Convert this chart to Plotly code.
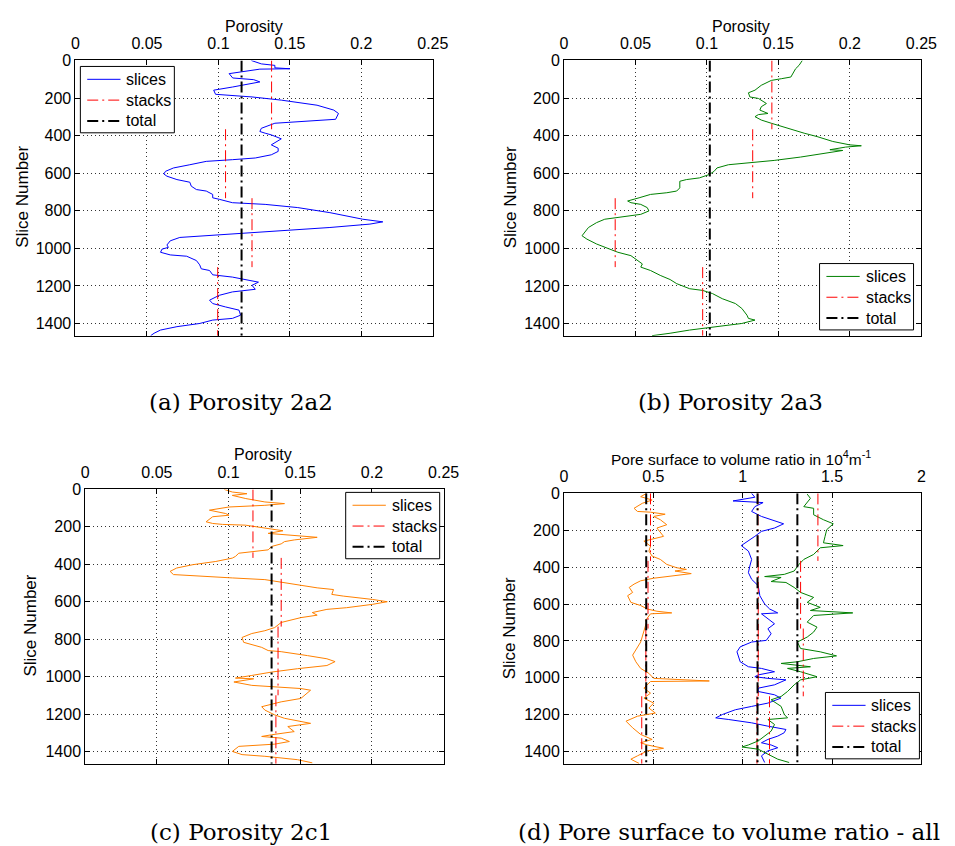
import plotly.graph_objects as go

# ---------------- data ----------------
stack_bounds = [0, 366, 733, 1100, 1466]

# (a) Porosity 2a2
a_y = [0, 18, 26, 39, 44, 46, 70, 93, 102, 114, 141, 158, 180, 185, 194, 211, 238, 264, 282, 313, 326,
       334, 361, 378, 387, 396, 417, 440, 449, 467, 484, 502, 519, 528, 537, 555, 572, 590, 604, 616,
       634, 648, 669, 687, 695, 713, 731, 739, 757, 766, 783, 810, 845, 859, 871, 889, 907, 924, 933,
       942, 960, 982, 995, 1004, 1021, 1035, 1042, 1065, 1088, 1109, 1118, 1141, 1153, 1180, 1197,
       1218, 1232, 1250, 1276, 1294, 1312, 1329, 1356, 1373, 1382, 1400, 1417, 1435, 1452, 1465]
a_x = [0.123, 0.130, 0.1395, 0.1395, 0.150, 0.129, 0.1075, 0.110, 0.1247, 0.129, 0.110, 0.0967, 0.098,
       0.110, 0.1235, 0.144, 0.169, 0.1807, 0.184, 0.182, 0.1555, 0.1395, 0.130, 0.129, 0.1327, 0.137,
       0.144, 0.1395, 0.137, 0.1418, 0.1418, 0.137, 0.1258, 0.1098, 0.0915, 0.080, 0.0686, 0.063,
       0.0618, 0.064, 0.071, 0.080, 0.081, 0.0846, 0.0915, 0.096, 0.096, 0.1006, 0.1098, 0.1327,
       0.1555, 0.178, 0.201, 0.215, 0.206, 0.178, 0.144, 0.1144, 0.0915, 0.073, 0.0663, 0.064, 0.065,
       0.0606, 0.0595, 0.0663, 0.0778, 0.0846, 0.0869, 0.088, 0.0938, 0.096, 0.1098, 0.128, 0.1235,
       0.1258, 0.1098, 0.1006, 0.0938, 0.096, 0.105, 0.1144, 0.1155, 0.1098, 0.096, 0.0869, 0.071,
       0.0595, 0.055, 0.0526]
a_stacks = [0.1372, 0.105, 0.1235, 0.0995]
a_total = 0.1162

# (b) Porosity 2a3
b_y = [0, 26, 44, 70, 88, 97, 106, 132, 158, 172, 194, 202, 229, 246, 264, 282, 288, 299, 317, 334, 361,
       387, 405, 431, 449, 454, 461, 475, 479, 493, 514, 532, 542, 555, 572, 590, 607, 625, 634, 643,
       678, 695, 704, 713, 731, 748, 757, 766, 783, 801, 819, 831, 845, 863, 889, 933, 951, 977, 995,
       1021, 1039, 1065, 1083, 1100, 1118, 1144, 1166, 1188, 1215, 1224, 1241, 1268, 1294, 1320, 1356,
       1373, 1382, 1400, 1417, 1435, 1452, 1465]
b_x = [0.1667, 0.1644, 0.162, 0.160, 0.1587, 0.152, 0.145, 0.138, 0.1336, 0.129, 0.130, 0.136, 0.1416,
       0.138, 0.137, 0.1427, 0.136, 0.1336, 0.138, 0.145, 0.156, 0.168, 0.177, 0.188, 0.1998, 0.208,
       0.197, 0.186, 0.195, 0.184, 0.1655, 0.147, 0.131, 0.115, 0.107, 0.105, 0.1016, 0.0947, 0.0856,
       0.081, 0.081, 0.0788, 0.0719, 0.0605, 0.0525, 0.0445, 0.0468, 0.0537, 0.0582, 0.0594, 0.0537,
       0.0422, 0.0285, 0.0228, 0.0171, 0.0126, 0.016, 0.0228, 0.0285, 0.0377, 0.0468, 0.0514, 0.0548,
       0.0537, 0.0605, 0.0673, 0.0742, 0.0788, 0.0879, 0.097, 0.1039, 0.1107, 0.1199, 0.1244, 0.128,
       0.129, 0.1336, 0.1244, 0.106, 0.0879, 0.0742, 0.0616]
b_stacks = [0.1454, 0.132, 0.0358, 0.097]
b_total = 0.102

# (c) Porosity 2c1
c_y = [0, 14, 23, 32, 49, 67, 76, 85, 94, 111, 129, 138, 146, 173, 182, 187, 191, 208, 221, 235, 244, 256,
       270, 279, 291, 305, 323, 332, 341, 358, 367, 385, 402, 420, 438, 455, 464, 473, 482, 508, 526,
       535, 561, 570, 579, 588, 600, 614, 632, 641, 658, 672, 685, 697, 711, 738, 755, 770, 791, 817,
       844, 861, 867, 888, 905, 920, 941, 958, 976, 994, 1008, 1012, 1029, 1047, 1055, 1064, 1073, 1117,
       1135, 1161, 1179, 1205, 1223, 1250, 1267, 1294, 1311, 1320, 1329, 1347, 1361, 1373, 1400, 1417,
       1426, 1444, 1461]
c_x = [0.0969, 0.1026, 0.1128, 0.1026, 0.112, 0.1253, 0.139, 0.1253, 0.1003, 0.0866, 0.098, 0.1003,
       0.0889, 0.0843, 0.0889, 0.0957, 0.1117, 0.1253, 0.1379, 0.1276, 0.1436, 0.1618, 0.1458, 0.139,
       0.1367, 0.13, 0.1276, 0.1162, 0.1071, 0.1048, 0.1026, 0.0911, 0.0752, 0.0638, 0.0592, 0.0615,
       0.0797, 0.1026, 0.1253, 0.148, 0.1618, 0.1732, 0.172, 0.18, 0.1914, 0.2005, 0.2107, 0.2005,
       0.1823, 0.1686, 0.1584, 0.1618, 0.1504, 0.1436, 0.1367, 0.1322, 0.1253, 0.1162, 0.1094, 0.1105,
       0.1231, 0.1276, 0.1367, 0.155, 0.1686, 0.1743, 0.1686, 0.148, 0.13, 0.1162, 0.1048, 0.1175,
       0.1037, 0.1162, 0.1322, 0.1504, 0.1572, 0.1504, 0.1367, 0.1231, 0.1253, 0.1322, 0.139, 0.1572,
       0.1413, 0.1458, 0.13, 0.1231, 0.1367, 0.1424, 0.1322, 0.1071, 0.1026, 0.1094, 0.1253, 0.148,
       0.1584]
c_stacks = [0.117, 0.1367, 0.1345, 0.133]
c_total = 0.130

# (d) Pore surface to volume ratio - all three samples
d1_y = [0, 18, 36, 54, 81, 98, 102, 113, 125, 143, 170, 188, 233, 251, 259, 286, 313, 340, 358, 385, 403,
        412, 421, 435, 448, 460, 474, 492, 510, 537, 555, 591, 608, 627, 639, 648, 653, 689, 698, 770,
        806, 877, 913, 949, 976, 1003, 1017, 1020, 1056, 1083, 1110, 1137, 1164, 1191, 1208, 1235,
        1271, 1307, 1334, 1352, 1364, 1382, 1396, 1423, 1441, 1464]
d1_x = [0.462, 0.429, 0.493, 0.438, 0.392, 0.411, 0.484, 0.566, 0.502, 0.539, 0.575, 0.52, 0.557, 0.475,
        0.447, 0.484, 0.475, 0.493, 0.539, 0.575, 0.630, 0.685, 0.621, 0.712, 0.593, 0.502, 0.429,
        0.392, 0.365, 0.384, 0.356, 0.374, 0.429, 0.466, 0.52, 0.603, 0.484, 0.456, 0.462, 0.438, 0.429,
        0.384, 0.402, 0.429, 0.475, 0.502, 0.813, 0.484, 0.447, 0.484, 0.447, 0.502, 0.475, 0.511,
        0.411, 0.347, 0.384, 0.429, 0.493, 0.429, 0.466, 0.557, 0.466, 0.411, 0.374, 0.42]
d1_stacks = [0.484, 0.470, 0.458, 0.435]
d1_total = 0.460

d2_y = [0, 21, 41, 45, 50, 72, 98, 125, 143, 165, 188, 206, 233, 268, 283, 313, 358, 394, 430, 466, 501,
        555, 600, 627, 648, 653, 689, 707, 734, 761, 797, 806, 832, 859, 913, 940, 949, 967, 984, 994,
        1003, 1011, 1038, 1056, 1074, 1092, 1110, 1137, 1155, 1173, 1199, 1217, 1226, 1244, 1262, 1280,
        1298, 1316, 1334, 1352, 1364, 1379, 1396, 1423, 1459]
d2_x = [1.05, 1.068, 0.946, 1.068, 1.114, 1.068, 1.05, 1.105, 1.159, 1.229, 1.178, 1.105, 1.068, 1.014,
        0.992, 1.032, 1.05, 1.04, 1.032, 1.05, 1.087, 1.096, 1.123, 1.151, 1.196, 1.105, 1.151, 1.178,
        1.141, 1.159, 1.132, 1.05, 0.986, 0.968, 0.986, 1.032, 1.105, 1.178, 1.087, 1.068, 1.141, 1.242,
        1.178, 1.087, 1.087, 1.178, 1.214, 1.141, 1.05, 0.959, 0.886, 0.849, 0.922, 1.05, 1.141, 1.242,
        1.232, 1.196, 1.141, 1.105, 1.159, 1.196, 1.141, 1.105, 1.123]
d2_stacks = [1.085, 1.087, 1.087, 1.08]
d2_total = 1.083

d3_y = [4, 27, 72, 81, 116, 143, 165, 197, 233, 268, 283, 295, 331, 358, 385, 421, 439, 451, 456, 478,
        483, 510, 537, 564, 591, 618, 635, 648, 662, 698, 725, 752, 779, 806, 841, 859, 881, 895, 913,
        922, 940, 949, 967, 994, 1011, 1038, 1074, 1101, 1119, 1155, 1199, 1217, 1226, 1253, 1289, 1316,
        1342, 1364, 1375, 1387, 1414, 1441, 1459]
d3_x = [1.361, 1.379, 1.342, 1.397, 1.397, 1.452, 1.507, 1.47, 1.461, 1.452, 1.562, 1.434, 1.397, 1.342,
        1.315, 1.288, 1.233, 1.123, 1.215, 1.159, 1.242, 1.288, 1.324, 1.397, 1.361, 1.434, 1.379, 1.616,
        1.397, 1.361, 1.416, 1.397, 1.361, 1.306, 1.324, 1.434, 1.525, 1.397, 1.306, 1.215, 1.379, 1.251,
        1.324, 1.416, 1.324, 1.288, 1.251, 1.215, 1.159, 1.215, 1.233, 1.251, 1.141, 1.178, 1.159, 1.123,
        1.087, 1.032, 0.996, 1.087, 1.141, 1.196, 1.26]
d3_stacks = [1.421, 1.324, 1.339, 1.15]
d3_total = 1.306

porosity_ticks = [0, 0.05, 0.1, 0.15, 0.2, 0.25]
porosity_ticktext = ["0", "0.05", "0.1", "0.15", "0.2", "0.25"]
ratio_ticks = [0, 0.5, 1, 1.5, 2]
ratio_ticktext = ["0", "0.5", "1", "1.5", "2"]
slice_ticks = [0, 200, 400, 600, 800, 1000, 1200, 1400]
legend_labels = ["slices", "stacks", "total"]
captions = ["(a) Porosity 2a2", "(b) Porosity 2a3", "(c) Porosity 2c1",
            "(d) Pore surface to volume ratio - all"]

# ---------------- styling ----------------
W, H = 955, 846
BLUE, GREEN, ORANGE, RED = "#0000ff", "#008000", "#ff8000", "#ff0000"
DASHDOT = "11px,4px,2px,4px"
SANS = "Liberation Sans, Arial, sans-serif"


def px(x):
    return x / W


def py(y):
    return 1 - y / H


fig = go.Figure()


def stack_xy(vals):
    xs, ys = [], []
    for i, v in enumerate(vals):
        xs += [v, v, None]
        ys += [stack_bounds[i], stack_bounds[i + 1], None]
    return xs, ys


def add_panel(idx, series):
    ax = "" if idx == 1 else str(idx)
    xa, ya = "x" + ax, "y" + ax
    for (sx, sy, color, stacks, total) in series:
        fig.add_trace(go.Scatter(x=sx, y=sy, mode="lines", line=dict(color=color, width=1),
                                 name="slices", xaxis=xa, yaxis=ya, showlegend=False))
        stx, sty = stack_xy(stacks)
        fig.add_trace(go.Scatter(x=stx, y=sty, mode="lines", line=dict(color=RED, width=1, dash=DASHDOT),
                                 name="stacks", xaxis=xa, yaxis=ya, showlegend=False))
        fig.add_trace(go.Scatter(x=[total, total], y=[stack_bounds[0], stack_bounds[-1]], mode="lines",
                                 line=dict(color="black", width=2, dash=DASHDOT),
                                 name="total", xaxis=xa, yaxis=ya, showlegend=False))


add_panel(1, [(a_x, a_y, BLUE, a_stacks, a_total)])
add_panel(2, [(b_x, b_y, GREEN, b_stacks, b_total)])
add_panel(3, [(c_x, c_y, ORANGE, c_stacks, c_total)])
add_panel(4, [(d1_x, d1_y, ORANGE, d1_stacks, d1_total),
              (d2_x, d2_y, BLUE, d2_stacks, d2_total),
              (d3_x, d3_y, GREEN, d3_stacks, d3_total)])

# panel boxes in pixels: (left, right, top, bottom)
boxes = {1: (73, 438, 53, 331), 2: (572, 937, 53, 331), 3: (83, 449, 486, 763), 4: (572, 937, 490, 763)}

axis_common = dict(showline=True, linecolor="black", linewidth=1, mirror="ticks", ticks="inside",
                   ticklen=5, tickcolor="black", showgrid=True, gridcolor="#333333", gridwidth=1,
                   griddash="1px,3px", zeroline=False, tickfont=dict(family=SANS, size=16, color="black"))

layout = dict(width=W, height=H, margin=dict(l=0, r=0, t=0, b=0), paper_bgcolor="white",
              plot_bgcolor="white", showlegend=False)

for i, (l, r, t, b) in boxes.items():
    ax = "" if i == 1 else str(i)
    xr = [0, 2] if i == 4 else [0, 0.25]
    tv = ratio_ticks if i == 4 else porosity_ticks
    tt = ratio_ticktext if i == 4 else porosity_ticktext
    layout["xaxis" + ax] = dict(axis_common, domain=[px(l), px(r)], range=xr, side="top",
                                tickvals=tv, ticktext=tt, anchor="y" + ax, ticklabelstandoff=4)
    layout["yaxis" + ax] = dict(axis_common, domain=[py(b), py(t)], range=[1466, 0],
                                tickvals=slice_ticks, anchor="x" + ax)

fig.update_layout(**layout)

# legends (MATLAB-style boxes): top-left corner in pixels and the colour of the "slices" sample
legend_pos = {1: (78, 59, BLUE), 2: (833, 258, GREEN), 3: (349, 489, ORANGE), 4: (839, 691, BLUE)}
for lx, ly, scol in legend_pos.values():
    fig.add_shape(type="rect", xref="paper", yref="paper", x0=px(lx), x1=px(lx + 96),
                  y0=py(ly), y1=py(ly + 67), line=dict(color="black", width=1), fillcolor="white",
                  layer="above")
    styles = [dict(color=scol, width=1), dict(color=RED, width=1, dash=DASHDOT),
              dict(color="black", width=2, dash=DASHDOT)]
    for k, (lab, st) in enumerate(zip(legend_labels, styles)):
        yy = ly + 13 + 21 * k
        fig.add_shape(type="line", xref="paper", yref="paper", x0=px(lx + 7), x1=px(lx + 41),
                      y0=py(yy), y1=py(yy), line=st, layer="above")
        fig.add_annotation(text=lab, x=px(lx + 45), y=py(yy), xref="paper", yref="paper",
                           showarrow=False, xanchor="left", yanchor="middle",
                           font=dict(family=SANS, size=16, color="black"))

# axis titles & captions
titles = [
    ("Porosity", 255, 19, 16, 0),
    ("Porosity", 753, 19, 16, 0),
    ("Porosity", 265, 451, 16, 0),
    ("Pore surface to volume ratio in 10<sup>4</sup>m<sup>-1</sup>", 753, 454, 15.5, 0),
    ("Slice Number", 19, 191, 17, -90),
    ("Slice Number", 517, 191, 17, -90),
    ("Slice Number", 27, 623, 17, -90),
    ("Slice Number", 516, 626, 17, -90),
]
for text, x, y, size, ang in titles:
    fig.add_annotation(text=text, x=px(x), y=py(y), xref="paper", yref="paper", showarrow=False,
                       xanchor="center", yanchor="middle", textangle=ang,
                       font=dict(family=SANS, size=size, color="black"))

cap_pos = [(242, 398), (742, 398), (242, 832), (740, 832)]
for text, (x, y) in zip(captions, cap_pos):
    fig.add_annotation(text=text, x=px(x), y=py(y), xref="paper", yref="paper", showarrow=False,
                       xanchor="center", yanchor="middle",
                       font=dict(family="DejaVu Serif, serif", size=23, color="black"))

fig.write_html("out.html")
